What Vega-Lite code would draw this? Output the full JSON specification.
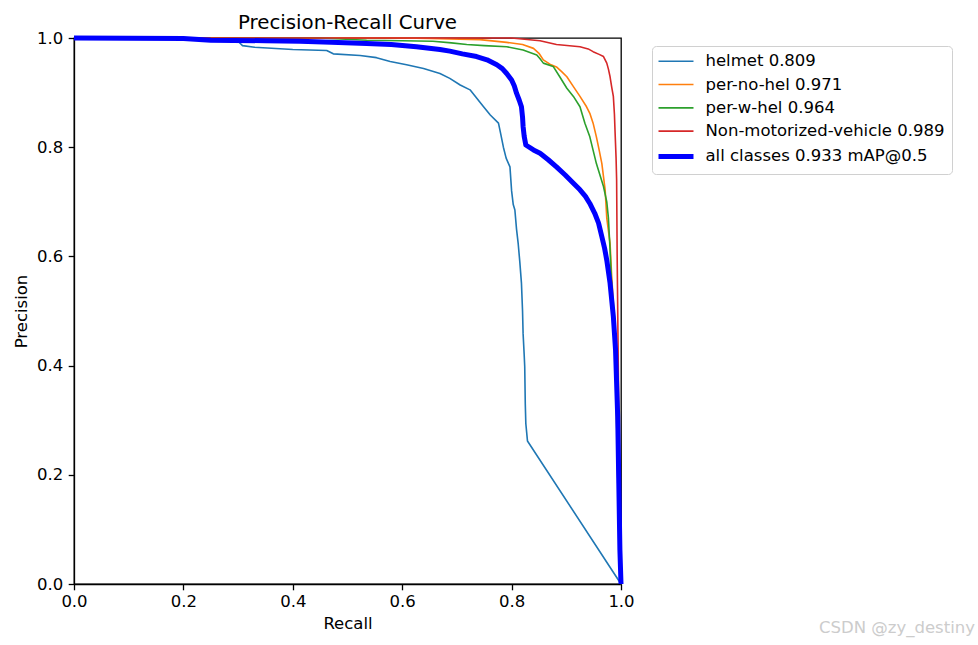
{
  "$schema": "https://vega.github.io/schema/vega-lite/v6.json",
  "width": 547,
  "height": 546,
  "autosize": "none",
  "padding": {"left": 74, "top": 38, "right": 357, "bottom": 61},
  "background": "white",
  "title": {
    "text": "Precision-Recall Curve",
    "font": "DejaVu Sans",
    "fontSize": 19.8,
    "fontWeight": "normal",
    "color": "black",
    "anchor": "middle",
    "offset": -3
  },
  "config": {
    "view": {"stroke": "black", "strokeWidth": 1.3},
    "axis": {
      "grid": false,
      "domainColor": "black",
      "domainWidth": 1.3,
      "tickColor": "black",
      "tickWidth": 1.3,
      "tickSize": 5.8,
      "labelFont": "DejaVu Sans",
      "labelFontSize": 16.5,
      "labelColor": "black",
      "labelFlush": false,
      "labelOverlap": false,
      "titleFont": "DejaVu Sans",
      "titleFontSize": 16.5,
      "titleFontWeight": "normal",
      "titleColor": "black"
    }
  },
  "datasets": {
    "pr": [
      {"cls": "helmet 0.809", "r": 0.0, "p": 1.0},
      {"cls": "helmet 0.809", "r": 0.27, "p": 1.0},
      {"cls": "helmet 0.809", "r": 0.272, "p": 0.995},
      {"cls": "helmet 0.809", "r": 0.3, "p": 0.994},
      {"cls": "helmet 0.809", "r": 0.304, "p": 0.99},
      {"cls": "helmet 0.809", "r": 0.308, "p": 0.986},
      {"cls": "helmet 0.809", "r": 0.33, "p": 0.983},
      {"cls": "helmet 0.809", "r": 0.4, "p": 0.979},
      {"cls": "helmet 0.809", "r": 0.462, "p": 0.977},
      {"cls": "helmet 0.809", "r": 0.474, "p": 0.971},
      {"cls": "helmet 0.809", "r": 0.523, "p": 0.968},
      {"cls": "helmet 0.809", "r": 0.553, "p": 0.964},
      {"cls": "helmet 0.809", "r": 0.578, "p": 0.957},
      {"cls": "helmet 0.809", "r": 0.608, "p": 0.951},
      {"cls": "helmet 0.809", "r": 0.639, "p": 0.944},
      {"cls": "helmet 0.809", "r": 0.669, "p": 0.935},
      {"cls": "helmet 0.809", "r": 0.687, "p": 0.926},
      {"cls": "helmet 0.809", "r": 0.706, "p": 0.914},
      {"cls": "helmet 0.809", "r": 0.724, "p": 0.905},
      {"cls": "helmet 0.809", "r": 0.736, "p": 0.89},
      {"cls": "helmet 0.809", "r": 0.748, "p": 0.875},
      {"cls": "helmet 0.809", "r": 0.761, "p": 0.859},
      {"cls": "helmet 0.809", "r": 0.776, "p": 0.844},
      {"cls": "helmet 0.809", "r": 0.78, "p": 0.825},
      {"cls": "helmet 0.809", "r": 0.785, "p": 0.8},
      {"cls": "helmet 0.809", "r": 0.79, "p": 0.78},
      {"cls": "helmet 0.809", "r": 0.797, "p": 0.764},
      {"cls": "helmet 0.809", "r": 0.8, "p": 0.72},
      {"cls": "helmet 0.809", "r": 0.803, "p": 0.695},
      {"cls": "helmet 0.809", "r": 0.806, "p": 0.685},
      {"cls": "helmet 0.809", "r": 0.809, "p": 0.65},
      {"cls": "helmet 0.809", "r": 0.812, "p": 0.624},
      {"cls": "helmet 0.809", "r": 0.815, "p": 0.59},
      {"cls": "helmet 0.809", "r": 0.818, "p": 0.551},
      {"cls": "helmet 0.809", "r": 0.82, "p": 0.5},
      {"cls": "helmet 0.809", "r": 0.821, "p": 0.459},
      {"cls": "helmet 0.809", "r": 0.823, "p": 0.42},
      {"cls": "helmet 0.809", "r": 0.824, "p": 0.398},
      {"cls": "helmet 0.809", "r": 0.825, "p": 0.33},
      {"cls": "helmet 0.809", "r": 0.826, "p": 0.294},
      {"cls": "helmet 0.809", "r": 0.829, "p": 0.262},
      {"cls": "helmet 0.809", "r": 1.0, "p": 0.0},

      {"cls": "per-no-hel 0.971", "r": 0.0, "p": 1.0},
      {"cls": "per-no-hel 0.971", "r": 0.6, "p": 1.0},
      {"cls": "per-no-hel 0.971", "r": 0.65, "p": 0.999},
      {"cls": "per-no-hel 0.971", "r": 0.742, "p": 0.997},
      {"cls": "per-no-hel 0.971", "r": 0.791, "p": 0.992},
      {"cls": "per-no-hel 0.971", "r": 0.82, "p": 0.988},
      {"cls": "per-no-hel 0.971", "r": 0.84, "p": 0.981},
      {"cls": "per-no-hel 0.971", "r": 0.85, "p": 0.972},
      {"cls": "per-no-hel 0.971", "r": 0.858, "p": 0.96},
      {"cls": "per-no-hel 0.971", "r": 0.87, "p": 0.952},
      {"cls": "per-no-hel 0.971", "r": 0.882, "p": 0.947},
      {"cls": "per-no-hel 0.971", "r": 0.892, "p": 0.938},
      {"cls": "per-no-hel 0.971", "r": 0.901, "p": 0.929},
      {"cls": "per-no-hel 0.971", "r": 0.913, "p": 0.911},
      {"cls": "per-no-hel 0.971", "r": 0.925, "p": 0.893},
      {"cls": "per-no-hel 0.971", "r": 0.937, "p": 0.874},
      {"cls": "per-no-hel 0.971", "r": 0.943, "p": 0.862},
      {"cls": "per-no-hel 0.971", "r": 0.949, "p": 0.844},
      {"cls": "per-no-hel 0.971", "r": 0.955, "p": 0.819},
      {"cls": "per-no-hel 0.971", "r": 0.96, "p": 0.795},
      {"cls": "per-no-hel 0.971", "r": 0.965, "p": 0.77},
      {"cls": "per-no-hel 0.971", "r": 0.971, "p": 0.722},
      {"cls": "per-no-hel 0.971", "r": 0.974, "p": 0.67},
      {"cls": "per-no-hel 0.971", "r": 0.98, "p": 0.624},
      {"cls": "per-no-hel 0.971", "r": 0.983, "p": 0.563},
      {"cls": "per-no-hel 0.971", "r": 0.987, "p": 0.5},
      {"cls": "per-no-hel 0.971", "r": 0.99, "p": 0.4},
      {"cls": "per-no-hel 0.971", "r": 0.993, "p": 0.25},
      {"cls": "per-no-hel 0.971", "r": 0.996, "p": 0.1},
      {"cls": "per-no-hel 0.971", "r": 1.0, "p": 0.0},

      {"cls": "per-w-hel 0.964", "r": 0.0, "p": 1.0},
      {"cls": "per-w-hel 0.964", "r": 0.45, "p": 1.0},
      {"cls": "per-w-hel 0.964", "r": 0.535, "p": 0.996},
      {"cls": "per-w-hel 0.964", "r": 0.6, "p": 0.995},
      {"cls": "per-w-hel 0.964", "r": 0.656, "p": 0.994},
      {"cls": "per-w-hel 0.964", "r": 0.69, "p": 0.991},
      {"cls": "per-w-hel 0.964", "r": 0.718, "p": 0.988},
      {"cls": "per-w-hel 0.964", "r": 0.75, "p": 0.986},
      {"cls": "per-w-hel 0.964", "r": 0.791, "p": 0.984},
      {"cls": "per-w-hel 0.964", "r": 0.821, "p": 0.978},
      {"cls": "per-w-hel 0.964", "r": 0.846, "p": 0.969},
      {"cls": "per-w-hel 0.964", "r": 0.852, "p": 0.962},
      {"cls": "per-w-hel 0.964", "r": 0.858, "p": 0.954},
      {"cls": "per-w-hel 0.964", "r": 0.876, "p": 0.948},
      {"cls": "per-w-hel 0.964", "r": 0.888, "p": 0.929},
      {"cls": "per-w-hel 0.964", "r": 0.901, "p": 0.908},
      {"cls": "per-w-hel 0.964", "r": 0.913, "p": 0.893},
      {"cls": "per-w-hel 0.964", "r": 0.925, "p": 0.874},
      {"cls": "per-w-hel 0.964", "r": 0.934, "p": 0.844},
      {"cls": "per-w-hel 0.964", "r": 0.943, "p": 0.819},
      {"cls": "per-w-hel 0.964", "r": 0.955, "p": 0.77},
      {"cls": "per-w-hel 0.964", "r": 0.968, "p": 0.728},
      {"cls": "per-w-hel 0.964", "r": 0.974, "p": 0.7},
      {"cls": "per-w-hel 0.964", "r": 0.977, "p": 0.67},
      {"cls": "per-w-hel 0.964", "r": 0.98, "p": 0.612},
      {"cls": "per-w-hel 0.964", "r": 0.985, "p": 0.5},
      {"cls": "per-w-hel 0.964", "r": 0.99, "p": 0.4},
      {"cls": "per-w-hel 0.964", "r": 0.993, "p": 0.25},
      {"cls": "per-w-hel 0.964", "r": 0.996, "p": 0.1},
      {"cls": "per-w-hel 0.964", "r": 1.0, "p": 0.0},

      {"cls": "Non-motorized-vehicle 0.989", "r": 0.0, "p": 1.0},
      {"cls": "Non-motorized-vehicle 0.989", "r": 0.8, "p": 1.0},
      {"cls": "Non-motorized-vehicle 0.989", "r": 0.852, "p": 0.995},
      {"cls": "Non-motorized-vehicle 0.989", "r": 0.882, "p": 0.988},
      {"cls": "Non-motorized-vehicle 0.989", "r": 0.925, "p": 0.984},
      {"cls": "Non-motorized-vehicle 0.989", "r": 0.94, "p": 0.98},
      {"cls": "Non-motorized-vehicle 0.989", "r": 0.949, "p": 0.975},
      {"cls": "Non-motorized-vehicle 0.989", "r": 0.96, "p": 0.97},
      {"cls": "Non-motorized-vehicle 0.989", "r": 0.968, "p": 0.966},
      {"cls": "Non-motorized-vehicle 0.989", "r": 0.974, "p": 0.954},
      {"cls": "Non-motorized-vehicle 0.989", "r": 0.977, "p": 0.943},
      {"cls": "Non-motorized-vehicle 0.989", "r": 0.98, "p": 0.929},
      {"cls": "Non-motorized-vehicle 0.989", "r": 0.983, "p": 0.91},
      {"cls": "Non-motorized-vehicle 0.989", "r": 0.986, "p": 0.893},
      {"cls": "Non-motorized-vehicle 0.989", "r": 0.988, "p": 0.86},
      {"cls": "Non-motorized-vehicle 0.989", "r": 0.989, "p": 0.832},
      {"cls": "Non-motorized-vehicle 0.989", "r": 0.991, "p": 0.78},
      {"cls": "Non-motorized-vehicle 0.989", "r": 0.992, "p": 0.74},
      {"cls": "Non-motorized-vehicle 0.989", "r": 0.993, "p": 0.6},
      {"cls": "Non-motorized-vehicle 0.989", "r": 0.995, "p": 0.4},
      {"cls": "Non-motorized-vehicle 0.989", "r": 0.997, "p": 0.2},
      {"cls": "Non-motorized-vehicle 0.989", "r": 1.0, "p": 0.0},

      {"cls": "all classes 0.933 mAP@0.5", "r": 0.0, "p": 1.0},
      {"cls": "all classes 0.933 mAP@0.5", "r": 0.2, "p": 0.999},
      {"cls": "all classes 0.933 mAP@0.5", "r": 0.25, "p": 0.996},
      {"cls": "all classes 0.933 mAP@0.5", "r": 0.35, "p": 0.995},
      {"cls": "all classes 0.933 mAP@0.5", "r": 0.413, "p": 0.994},
      {"cls": "all classes 0.933 mAP@0.5", "r": 0.47, "p": 0.992},
      {"cls": "all classes 0.933 mAP@0.5", "r": 0.535, "p": 0.99},
      {"cls": "all classes 0.933 mAP@0.5", "r": 0.58, "p": 0.988},
      {"cls": "all classes 0.933 mAP@0.5", "r": 0.626, "p": 0.984},
      {"cls": "all classes 0.933 mAP@0.5", "r": 0.669, "p": 0.979},
      {"cls": "all classes 0.933 mAP@0.5", "r": 0.687, "p": 0.976},
      {"cls": "all classes 0.933 mAP@0.5", "r": 0.71, "p": 0.971},
      {"cls": "all classes 0.933 mAP@0.5", "r": 0.736, "p": 0.966},
      {"cls": "all classes 0.933 mAP@0.5", "r": 0.755, "p": 0.96},
      {"cls": "all classes 0.933 mAP@0.5", "r": 0.773, "p": 0.951},
      {"cls": "all classes 0.933 mAP@0.5", "r": 0.783, "p": 0.944},
      {"cls": "all classes 0.933 mAP@0.5", "r": 0.791, "p": 0.935},
      {"cls": "all classes 0.933 mAP@0.5", "r": 0.8, "p": 0.923},
      {"cls": "all classes 0.933 mAP@0.5", "r": 0.805, "p": 0.912},
      {"cls": "all classes 0.933 mAP@0.5", "r": 0.809, "p": 0.899},
      {"cls": "all classes 0.933 mAP@0.5", "r": 0.814, "p": 0.886},
      {"cls": "all classes 0.933 mAP@0.5", "r": 0.818, "p": 0.874},
      {"cls": "all classes 0.933 mAP@0.5", "r": 0.82, "p": 0.855},
      {"cls": "all classes 0.933 mAP@0.5", "r": 0.821, "p": 0.838},
      {"cls": "all classes 0.933 mAP@0.5", "r": 0.823, "p": 0.82},
      {"cls": "all classes 0.933 mAP@0.5", "r": 0.826, "p": 0.804},
      {"cls": "all classes 0.933 mAP@0.5", "r": 0.84, "p": 0.795},
      {"cls": "all classes 0.933 mAP@0.5", "r": 0.852, "p": 0.789},
      {"cls": "all classes 0.933 mAP@0.5", "r": 0.867, "p": 0.777},
      {"cls": "all classes 0.933 mAP@0.5", "r": 0.882, "p": 0.764},
      {"cls": "all classes 0.933 mAP@0.5", "r": 0.898, "p": 0.749},
      {"cls": "all classes 0.933 mAP@0.5", "r": 0.913, "p": 0.734},
      {"cls": "all classes 0.933 mAP@0.5", "r": 0.925, "p": 0.722},
      {"cls": "all classes 0.933 mAP@0.5", "r": 0.935, "p": 0.71},
      {"cls": "all classes 0.933 mAP@0.5", "r": 0.943, "p": 0.697},
      {"cls": "all classes 0.933 mAP@0.5", "r": 0.952, "p": 0.679},
      {"cls": "all classes 0.933 mAP@0.5", "r": 0.959, "p": 0.661},
      {"cls": "all classes 0.933 mAP@0.5", "r": 0.965, "p": 0.636},
      {"cls": "all classes 0.933 mAP@0.5", "r": 0.97, "p": 0.615},
      {"cls": "all classes 0.933 mAP@0.5", "r": 0.974, "p": 0.593},
      {"cls": "all classes 0.933 mAP@0.5", "r": 0.98, "p": 0.551},
      {"cls": "all classes 0.933 mAP@0.5", "r": 0.986, "p": 0.49},
      {"cls": "all classes 0.933 mAP@0.5", "r": 0.99, "p": 0.429},
      {"cls": "all classes 0.933 mAP@0.5", "r": 0.994, "p": 0.306},
      {"cls": "all classes 0.933 mAP@0.5", "r": 0.996, "p": 0.184},
      {"cls": "all classes 0.933 mAP@0.5", "r": 0.998, "p": 0.062},
      {"cls": "all classes 0.933 mAP@0.5", "r": 1.0, "p": 0.0}
    ]
  },
  "data": {"name": "pr"},
  "encoding": {
    "x": {
      "field": "r",
      "type": "quantitative",
      "title": "Recall",
      "scale": {"domain": [0, 1], "nice": false},
      "axis": {"values": [0, 0.2, 0.4, 0.6, 0.8, 1.0], "format": ".1f", "labelPadding": 4, "titlePadding": 5}
    },
    "y": {
      "field": "p",
      "type": "quantitative",
      "title": "Precision",
      "scale": {"domain": [0, 1], "nice": false},
      "axis": {"values": [0, 0.2, 0.4, 0.6, 0.8, 1.0], "format": ".1f", "labelPadding": 5.5, "titlePadding": 7}
    },
    "order": {"value": null},
    "color": {
      "field": "cls",
      "type": "nominal",
      "scale": {
        "domain": ["helmet 0.809", "per-no-hel 0.971", "per-w-hel 0.964", "Non-motorized-vehicle 0.989", "all classes 0.933 mAP@0.5"],
        "range": ["#1f77b4", "#ff7f0e", "#2ca02c", "#d62728", "#0000ff"]
      },
      "legend": {
        "title": null,
        "orient": "none",
        "legendX": 578,
        "legendY": 8,
        "labelFont": "DejaVu Sans",
        "labelFontSize": 16.5,
        "labelColor": "black",
        "labelLimit": 300,
        "symbolType": "M-1,0H3",
        "symbolSize": 306,
        "labelOffset": 30,
        "padding": 7,
        "rowPadding": 6.3,
        "strokeColor": "#d0d0d0",
        "cornerRadius": 4,
        "fillColor": "white",
        "encode": {
          "symbols": {
            "update": {
              "strokeWidth": {"signal": "datum.value === 'all classes 0.933 mAP@0.5' ? 5 : 1.6"}
            }
          }
        }
      }
    }
  },
  "layer": [
    {
      "transform": [{"filter": "datum.cls !== 'all classes 0.933 mAP@0.5'"}],
      "mark": {"type": "line", "strokeWidth": 1.6, "strokeJoin": "round"}
    },
    {
      "transform": [{"filter": "datum.cls === 'all classes 0.933 mAP@0.5'"}],
      "mark": {"type": "line", "strokeWidth": 5, "strokeJoin": "round"}
    },
    {
      "data": {"values": [{"note": "CSDN @zy_destiny", "r": 1, "p": 0}]},
      "mark": {
        "type": "text",
        "align": "right",
        "baseline": "middle",
        "dx": 354,
        "dy": 44,
        "font": "DejaVu Sans",
        "fontSize": 16.5,
        "color": "#cccccc"
      },
      "encoding": {
        "text": {"field": "note"},
        "color": {"value": "#cccccc"},
        "order": null
      }
    }
  ]
}
